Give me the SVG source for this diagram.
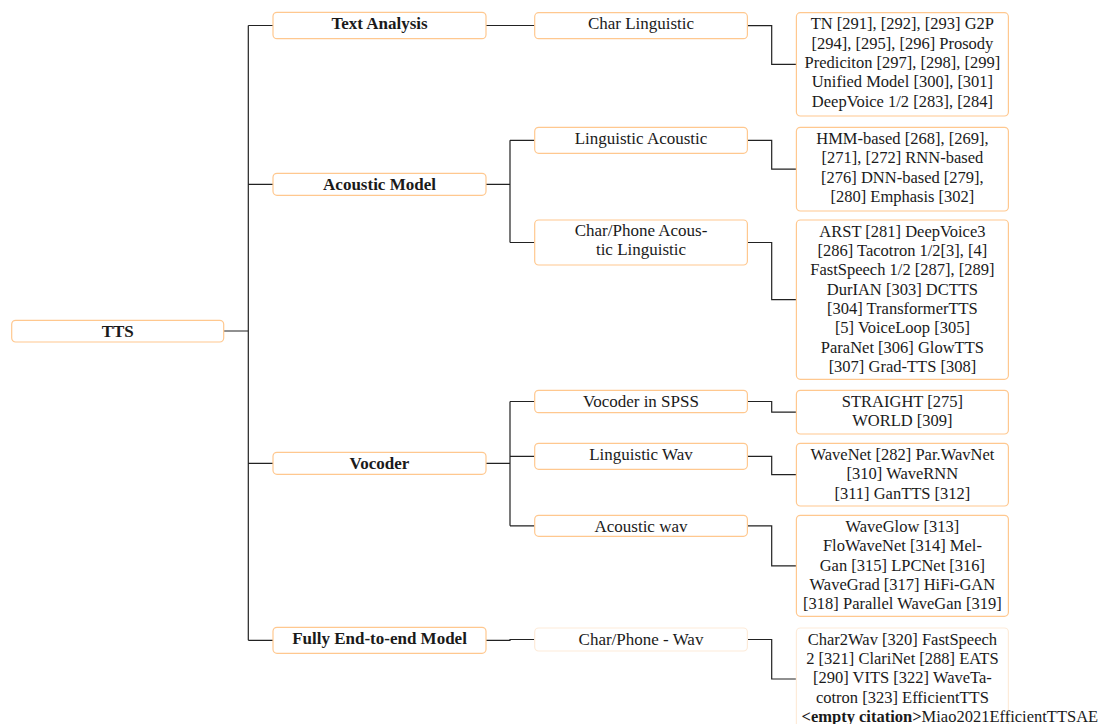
<svg xmlns="http://www.w3.org/2000/svg" width="1098" height="724" viewBox="0 0 1098 724">
<style>
.box{fill:#fff;stroke:#FFC88F;stroke-width:1.2}
.faded{fill:#fff;stroke:#FDEBD9;stroke-width:1.2}
.t{font-family:"Liberation Serif","Times New Roman",serif;fill:#1a1a1a;text-anchor:middle}
.b{font-weight:bold;font-size:17px}
.m{font-size:17px}
.l{font-size:16.5px}
.c{fill:none;stroke:#222;stroke-width:1.2}
</style>
<rect width="1098" height="724" fill="#fff"/>
<g id="connectors">
<path class="c" d="M223.7,331H248.3M248.3,25.5V640.3M248.3,25.5H273M248.3,184.3H273M248.3,463.3H273M248.3,640.3H273"/>
<path class="c" d="M486,25.5H534.7"/>
<path class="c" d="M486,184.3H510M510,140.3V242.5M510,140.3H534.7M510,242.5H534.7"/>
<path class="c" d="M486,463.3H510M510,401.5V525.8M510,401.5H534.7M510,456.3H534.7M510,525.8H534.7"/>
<path class="c" d="M486,640.3H510V639.5H534.7"/>
<path class="c" d="M747.4,25.7H771.7V64.3H796.4"/>
<path class="c" d="M747.4,140.3H771.7V169.2H796.4"/>
<path class="c" d="M747.4,242.5H771.7V299.7H796.4"/>
<path class="c" d="M747.4,401.5H771.7V412.2H796.4"/>
<path class="c" d="M747.4,456.3H771.7V474.7H796.4"/>
<path class="c" d="M747.4,525.8H771.7V565.8H796.4"/>
<path class="c" d="M747.4,639.5H771.7V679H796.4"/>
</g>
<g id="tts">
<rect class="box" x="11.7" y="320.3" width="212" height="21.7" rx="4"/>
<text class="t b" x="117.7" y="337.2">TTS</text>
</g>
<g id="text-analysis">
<rect class="box" x="273" y="12.3" width="213" height="26.4" rx="4"/>
<text class="t b" x="379.5" y="29.2">Text Analysis</text>
</g>
<g id="acoustic-model">
<rect class="box" x="273" y="173.3" width="213" height="22" rx="4"/>
<text class="t b" x="379.5" y="190.1">Acoustic Model</text>
</g>
<g id="vocoder">
<rect class="box" x="273" y="452.3" width="213" height="22" rx="4"/>
<text class="t b" x="379.5" y="469.1">Vocoder</text>
</g>
<g id="fully-e2e">
<rect class="box" x="273" y="627.3" width="213" height="26" rx="4"/>
<text class="t b" x="379.5" y="644.1">Fully End-to-end Model</text>
</g>
<g id="char-linguistic">
<rect class="box" x="534.7" y="12.7" width="212.7" height="26" rx="4"/>
<text class="t m" x="641" y="29.4">Char Linguistic</text>
</g>
<g id="linguistic-acoustic">
<rect class="box" x="534.7" y="127.3" width="212.7" height="26" rx="4"/>
<text class="t m" x="641" y="144">Linguistic Acoustic</text>
</g>
<g id="char-phone-acoustic">
<rect class="box" x="534.7" y="220" width="212.7" height="45" rx="4"/>
<text class="t m" x="641" y="235.9">Char/Phone Acous-</text>
<text class="t m" x="641" y="255.2">tic Linguistic</text>
</g>
<g id="vocoder-spss">
<rect class="box" x="534.7" y="390.3" width="212.7" height="22.4" rx="4"/>
<text class="t m" x="641" y="407">Vocoder in SPSS</text>
</g>
<g id="linguistic-wav">
<rect class="box" x="534.7" y="443.3" width="212.7" height="26" rx="4"/>
<text class="t m" x="641" y="460">Linguistic Wav</text>
</g>
<g id="acoustic-wav">
<rect class="box" x="534.7" y="515.3" width="212.7" height="21" rx="4"/>
<text class="t m" x="641" y="532">Acoustic wav</text>
</g>
<g id="char-phone-wav">
<rect class="faded" x="534.7" y="628" width="212.7" height="23" rx="4"/>
<text class="t m" x="641" y="644.7">Char/Phone - Wav</text>
</g>
<g id="leaf-text-analysis">
<rect class="box" x="796.4" y="12.7" width="212" height="103.3" rx="4"/>
<text class="t l" x="902.4"><tspan x="902.4" y="29.3">TN [291], [292], [293] G2P</tspan><tspan x="902.4" y="48.65">[294], [295], [296] Prosody</tspan><tspan x="902.4" y="68">Prediciton [297], [298], [299]</tspan><tspan x="902.4" y="87.35">Unified Model [300], [301]</tspan><tspan x="902.4" y="106.7">DeepVoice 1/2 [283], [284]</tspan></text>
</g>
<g id="leaf-linguistic-acoustic">
<rect class="box" x="796.4" y="127.3" width="212" height="83.7" rx="4"/>
<text class="t l" x="902.4"><tspan x="902.4" y="143.9">HMM-based [268], [269],</tspan><tspan x="902.4" y="163.25">[271], [272] RNN-based</tspan><tspan x="902.4" y="182.6">[276] DNN-based [279],</tspan><tspan x="902.4" y="201.95">[280] Emphasis [302]</tspan></text>
</g>
<g id="leaf-char-phone-acoustic">
<rect class="box" x="796.4" y="220" width="212" height="159.3" rx="4"/>
<text class="t l" x="902.4"><tspan x="902.4" y="236.6">ARST [281] DeepVoice3</tspan><tspan x="902.4" y="255.95">[286] Tacotron 1/2[3], [4]</tspan><tspan x="902.4" y="275.3">FastSpeech 1/2 [287], [289]</tspan><tspan x="902.4" y="294.65">DurIAN [303] DCTTS</tspan><tspan x="902.4" y="314">[304] TransformerTTS</tspan><tspan x="902.4" y="333.35">[5] VoiceLoop [305]</tspan><tspan x="902.4" y="352.7">ParaNet [306] GlowTTS</tspan><tspan x="902.4" y="372.05">[307] Grad-TTS [308]</tspan></text>
</g>
<g id="leaf-vocoder-spss">
<rect class="box" x="796.4" y="390.3" width="212" height="43.7" rx="4"/>
<text class="t l" x="902.4"><tspan x="902.4" y="406.9">STRAIGHT [275]</tspan><tspan x="902.4" y="426.25">WORLD [309]</tspan></text>
</g>
<g id="leaf-linguistic-wav">
<rect class="box" x="796.4" y="443.3" width="212" height="62.7" rx="4"/>
<text class="t l" x="902.4"><tspan x="902.4" y="459.9">WaveNet [282] Par.WavNet</tspan><tspan x="902.4" y="479.25">[310] WaveRNN</tspan><tspan x="902.4" y="498.6">[311] GanTTS [312]</tspan></text>
</g>
<g id="leaf-acoustic-wav">
<rect class="box" x="796.4" y="515.3" width="212" height="101" rx="4"/>
<text class="t l" x="902.4"><tspan x="902.4" y="531.9">WaveGlow [313]</tspan><tspan x="902.4" y="551.25">FloWaveNet [314] Mel-</tspan><tspan x="902.4" y="570.6">Gan [315] LPCNet [316]</tspan><tspan x="902.4" y="589.95">WaveGrad [317] HiFi-GAN</tspan><tspan x="902.4" y="609.3">[318] Parallel WaveGan [319]</tspan></text>
</g>
<g id="leaf-char-phone-wav">
<rect class="faded" x="796.4" y="628" width="212" height="102" rx="4"/>
<text class="t l" x="902.4"><tspan x="902.4" y="644.6">Char2Wav [320] FastSpeech</tspan><tspan x="902.4" y="663.95">2 [321] ClariNet [288] EATS</tspan><tspan x="902.4" y="683.3">[290] VITS [322] WaveTa-</tspan><tspan x="902.4" y="702.65">cotron [323] EfficientTTS</tspan></text>
<text class="t l" x="801.5" y="721.5" style="text-anchor:start"><tspan font-weight="bold">&lt;empty citation&gt;</tspan>Miao2021EfficientTTSAE</text>
</g>
</svg>
